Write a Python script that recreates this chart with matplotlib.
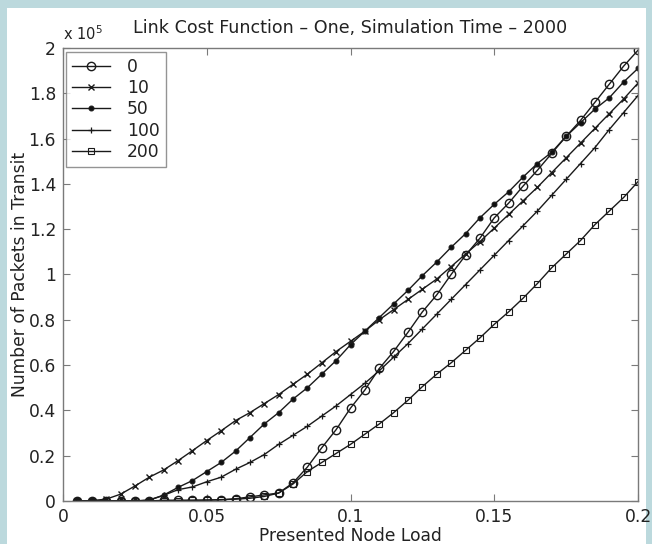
import numpy as np
import matplotlib
matplotlib.use("Agg")
import matplotlib.pyplot as plt
from matplotlib.patches import Rectangle

# Presented node load (x) – one marker every 0.005
load = np.round(np.arange(1, 41) * 0.005, 3)

# Number of packets in transit, in units of 1e5, one list per series
cost_0 = [0.0, 0.0, 0.0, 0.0, 0.0, 0.0, 0.003, 0.003, 0.003, 0.004,
          0.005, 0.01, 0.018, 0.027, 0.035, 0.08, 0.15, 0.235, 0.315, 0.41,
          0.49, 0.585, 0.66, 0.745, 0.835, 0.91, 1.0, 1.085, 1.16, 1.25,
          1.315, 1.39, 1.46, 1.535, 1.61, 1.68, 1.76, 1.84, 1.92, 1.99]
cost_10 = [0.0, 0.002, 0.008, 0.03, 0.066, 0.105, 0.137, 0.178, 0.222, 0.267,
           0.31, 0.355, 0.39, 0.43, 0.47, 0.515, 0.56, 0.61, 0.66, 0.705,
           0.75, 0.80, 0.845, 0.89, 0.935, 0.98, 1.035, 1.09, 1.145, 1.205,
           1.265, 1.325, 1.385, 1.45, 1.515, 1.58, 1.645, 1.71, 1.775, 1.845]
cost_50 = [0.0, 0.0, 0.0, 0.0, 0.0, 0.003, 0.026, 0.06, 0.09, 0.13,
           0.17, 0.22, 0.28, 0.34, 0.39, 0.45, 0.50, 0.56, 0.62, 0.69,
           0.75, 0.81, 0.87, 0.93, 0.995, 1.055, 1.12, 1.18, 1.25, 1.31,
           1.365, 1.43, 1.49, 1.54, 1.61, 1.67, 1.73, 1.78, 1.85, 1.91]
cost_100 = [0.0, 0.0, 0.0, 0.0, 0.0, 0.005, 0.025, 0.05, 0.062, 0.085,
            0.105, 0.14, 0.17, 0.205, 0.25, 0.29, 0.33, 0.375, 0.42, 0.47,
            0.52, 0.575, 0.635, 0.695, 0.76, 0.825, 0.89, 0.955, 1.02, 1.085,
            1.15, 1.215, 1.28, 1.35, 1.42, 1.49, 1.56, 1.64, 1.715, 1.79]
cost_200 = [0.0, 0.0, 0.0, 0.0, 0.0, 0.0, 0.002, 0.002, 0.003, 0.004,
            0.006, 0.008, 0.012, 0.02, 0.035, 0.075, 0.13, 0.17, 0.21, 0.25,
            0.295, 0.34, 0.39, 0.445, 0.505, 0.56, 0.61, 0.665, 0.72, 0.78,
            0.835, 0.895, 0.96, 1.03, 1.09, 1.15, 1.22, 1.28, 1.34, 1.41]

series_labels = ["0", "10", "50", "100", "200"]
series_values = [cost_0, cost_10, cost_50, cost_100, cost_200]

y_ticks = np.round(np.arange(0, 2.01, 0.2), 1)
y_tick_labels = ["0", "0.2", "0.4", "0.6", "0.8", "1", "1.2", "1.4", "1.6", "1.8", "2"]
x_ticks = [0, 0.05, 0.1, 0.15, 0.2]
x_tick_labels = ["0", "0.05", "0.1", "0.15", "0.2"]

styles = {
    "0": dict(marker="o", ms=6.0, mfc="none", mew=1.0),
    "10": dict(marker="x", ms=4.5, mew=1.0),
    "50": dict(marker="o", ms=3.5, mfc="#111111", mew=0.8),
    "100": dict(marker="+", ms=5, mew=0.9),
    "200": dict(marker="s", ms=3.8, mfc="none", mew=0.8),
}

plt.rcParams["font.family"] = "DejaVu Sans"
text_col = "#222222"
frame_col = "#7a7a7a"
fs = 12.3

fig = plt.figure(figsize=(6.52, 5.44), dpi=100)
fig.patch.set_facecolor("#bcd9dd")
fig.patches.append(Rectangle((7 / 652, 0), 639 / 652, 536 / 544, transform=fig.transFigure,
                             facecolor="white", edgecolor="none", zorder=-10))

ax = fig.add_axes([63 / 652, 43 / 544, 575 / 652, 453 / 544])
for label, vals in zip(series_labels, series_values):
    ax.plot(load, np.array(vals) * 1e5, color="#1a1a1a", lw=1.0, label=label,
            **styles[label])

ax.set_xlim(0, 0.2)
ax.set_ylim(0, 2e5)
ax.set_xticks(x_ticks)
ax.set_xticklabels(x_tick_labels)
ax.set_yticks(y_ticks * 1e5)
ax.set_yticklabels(y_tick_labels)
ax.tick_params(direction="in", length=5, width=0.8, color=frame_col, labelsize=fs,
               labelcolor=text_col, top=True, right=True, pad=5)
for sp in ax.spines.values():
    sp.set_color(frame_col)
    sp.set_linewidth(1.0)

ax.set_xlabel("Presented Node Load", fontsize=fs, color=text_col, labelpad=1)
ax.set_ylabel("Number of Packets in Transit", fontsize=fs, color=text_col, labelpad=0)
ax.set_title("Link Cost Function \u2013 One, Simulation Time \u2013 2000",
             fontsize=12.6, color=text_col, pad=11)
ax.text(0.0, 1.012, "x 10$^5$", transform=ax.transAxes, fontsize=10.5,
        color=text_col, ha="left", va="bottom")

leg = ax.legend(loc="upper left", bbox_to_anchor=(0.006, 0.992), frameon=True,
                fancybox=False, edgecolor=frame_col, fontsize=fs, handlelength=2.2,
                borderaxespad=0.0, labelspacing=0.2, handletextpad=1.0, borderpad=0.35)
leg.get_frame().set_linewidth(1.0)
for t in leg.get_texts():
    t.set_color(text_col)

fig.savefig("out.png", dpi=100, facecolor=fig.get_facecolor())
